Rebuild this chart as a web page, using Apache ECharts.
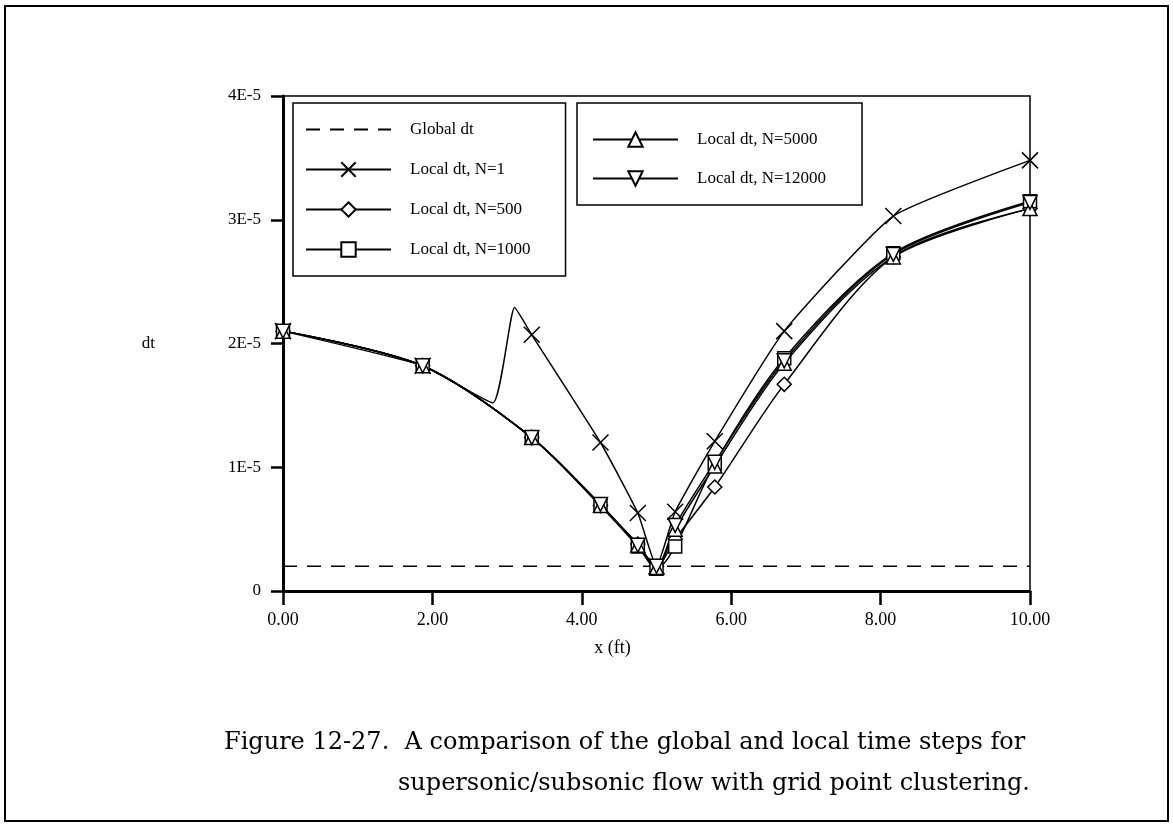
<!DOCTYPE html>
<html>
<head>
<meta charset="utf-8">
<script src="https://cdn.jsdelivr.net/npm/echarts@6/dist/echarts.min.js"></script>
<style>
    html, body { margin: 0; padding: 0; background: #fff; }
    #chart { width: 1173px; height: 827px; }
</style>
</head>
<body>
<div id="chart"></div>
<script>
// grid points along the nozzle, x in ft
var xGrid = [0, 1.87, 3.33, 4.25, 4.75, 5.0, 5.25, 5.78, 6.71, 8.17, 10.0];

// dt values, in units of 1E-5
var globalX = [0, 10];
var globalDt = [0.2, 0.2];

// N=1 has two extra unmarked points (the kink near x=3)
var n1X = [0, 1.87, 2.81, 3.10, 3.33, 4.25, 4.75, 5.0, 5.25, 5.78, 6.71, 8.17, 10.0];
var n1Dt = [2.1, 1.82, 1.52, 2.29, 2.07, 1.2, 0.63, 0.2, 0.64, 1.21, 2.1, 3.03, 3.48];

var n500Dt = [2.1, 1.82, 1.24, 0.69, 0.38, 0.2, 0.42, 0.84, 1.67, 2.70, 3.09];
var n1000Dt = [2.1, 1.82, 1.24, 0.69, 0.36, 0.18, 0.36, 1.03, 1.88, 2.73, 3.15];
var n5000Dt = [2.1, 1.82, 1.24, 0.69, 0.37, 0.19, 0.50, 1.01, 1.84, 2.70, 3.09];
var n12000Dt = [2.1, 1.82, 1.24, 0.70, 0.37, 0.2, 0.53, 1.04, 1.86, 2.72, 3.14];

var yTickLabels = ['0', '1E-5', '2E-5', '3E-5', '4E-5'];

var names = ['Global dt', 'Local dt, N=1', 'Local dt, N=500', 'Local dt, N=1000', 'Local dt, N=5000', 'Local dt, N=12000'];

var SERIF = 'Liberation Serif';
var crossPath = 'path://M0,0L10,10M10,0L0,10';

// points off the grid get no marker
function pairs(xs, ys) {
    return xs.map(function (x, i) {
        if (xGrid.indexOf(x) < 0) {
            return { value: [x, ys[i]], symbol: 'none' };
        }
        return [x, ys[i]];
    });
}

function markedSeries(name, xs, ys, symbol, size, rotate, smooth) {
    return {
        name: name,
        type: 'line',
        smooth: smooth || 0.3,
        data: pairs(xs, ys),
        symbol: symbol,
        symbolSize: size,
        symbolRotate: rotate || 0,
        showAllSymbol: true,
        lineStyle: { color: '#000', width: 1.5 },
        itemStyle: { color: '#fff', borderColor: '#000', borderWidth: 1.5 },
        z: 3
    };
}

var chart = echarts.init(document.getElementById('chart'));

var legendText = {
    fontFamily: SERIF,
    fontSize: 17,
    color: '#000',
    padding: [0, 0, 0, 14]
};

var option = {
    animation: false,
    backgroundColor: '#fff',
    grid: {
        left: 283,
        right: 143,
        top: 96,
        bottom: 236,
        show: true,
        borderColor: '#000',
        borderWidth: 1.5
    },
    legend: [{
        data: [{ name: names[0], itemStyle: { opacity: 0 } }, names[1], names[2], names[3]],
        orient: 'vertical',
        left: 293,
        top: 103,
        itemWidth: 85,
        itemHeight: 18,
        itemGap: 23,
        padding: [18, 35, 18, 12],
        borderColor: '#000',
        borderWidth: 1.5,
        textStyle: legendText
    }, {
        data: names.slice(4),
        orient: 'vertical',
        left: 577,
        top: 103,
        itemWidth: 85,
        itemHeight: 18,
        itemGap: 22,
        padding: [28, 36, 18, 15],
        borderColor: '#000',
        borderWidth: 1.5,
        textStyle: legendText
    }],
    xAxis: {
        type: 'value',
        min: 0,
        max: 10,
        interval: 2,
        name: 'x (ft)',
        nameLocation: 'middle',
        nameGap: 48,
        nameTextStyle: { fontFamily: SERIF, fontSize: 18, color: '#000', padding: [0, 88, 0, 0] },
        axisLine: { onZero: false, lineStyle: { color: '#000', width: 3 } },
        axisTick: { length: 14, lineStyle: { color: '#000', width: 2.5 } },
        axisLabel: {
            margin: 20,
            fontFamily: SERIF,
            fontSize: 18,
            color: '#000',
            formatter: function (v) { return v.toFixed(2); }
        },
        splitLine: { show: false }
    },
    yAxis: {
        type: 'value',
        min: 0,
        max: 4,
        interval: 1,
        name: 'dt',
        nameLocation: 'middle',
        nameRotate: 0,
        nameGap: 128,
        nameTextStyle: { fontFamily: SERIF, fontSize: 17, color: '#000' },
        axisLine: { onZero: false, lineStyle: { color: '#000', width: 3 } },
        axisTick: { length: 12, lineStyle: { color: '#000', width: 2.5 } },
        axisLabel: {
            margin: 22,
            fontFamily: SERIF,
            fontSize: 17,
            color: '#000',
            formatter: function (v) { return yTickLabels[Math.round(v)]; }
        },
        splitLine: { show: false }
    },
    series: [{
        name: names[0],
        type: 'line',
        data: pairs(globalX, globalDt),
        symbol: 'none',
        lineStyle: { color: '#000', width: 1.5, type: [14, 10] },
        itemStyle: { color: '#000' },
        z: 2
    },
        markedSeries(names[1], n1X, n1Dt, crossPath, 16, 0, 0.15),
        markedSeries(names[2], xGrid, n500Dt, 'diamond', 14),
        markedSeries(names[3], xGrid, n1000Dt, 'rect', 13),
        markedSeries(names[4], xGrid, n5000Dt, 'triangle', 14),
        markedSeries(names[5], xGrid, n12000Dt, 'triangle', 14, 180)
    ],
    graphic: [{
        type: 'rect',
        shape: { x: 5, y: 6, width: 1163, height: 815 },
        style: { fill: 'none', stroke: '#000', lineWidth: 2 },
        silent: true
    }, {
        type: 'text',
        left: 224,
        top: 731,
        style: {
            text: 'Figure 12-27.  A comparison of the global and local time steps for',
            font: '24px "DejaVu Serif"',
            fill: '#000'
        }
    }, {
        type: 'text',
        left: 398,
        top: 772,
        style: {
            text: 'supersonic/subsonic flow with grid point clustering.',
            font: '24px "DejaVu Serif"',
            fill: '#000'
        }
    }]
};

chart.setOption(option);
</script>
</body>
</html>
